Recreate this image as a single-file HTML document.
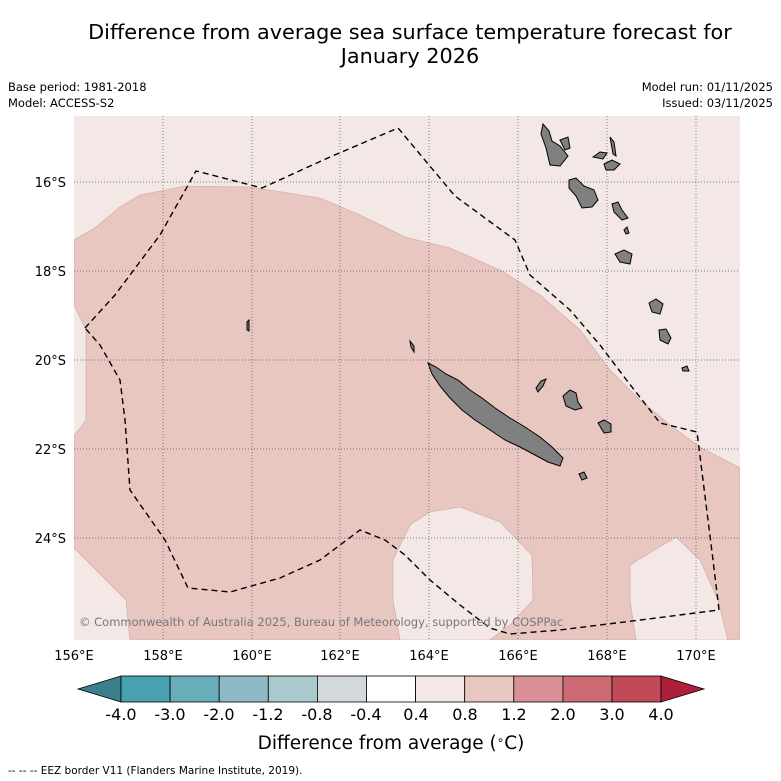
<!DOCTYPE html>
<html><head><meta charset="utf-8"><style>
body{margin:0;background:#fff;width:781px;height:781px;overflow:hidden;font-family:"DejaVu Sans","Liberation Sans",sans-serif}
svg{display:block}
</style></head><body>
<svg width="781" height="781" viewBox="0 0 781 781">
<text x="410" y="39" text-anchor="middle" font-size="20.8" fill="#000">Difference from average sea surface temperature forecast for</text>
<text x="410" y="63" text-anchor="middle" font-size="20.8" fill="#000">January 2026</text>
<text x="8" y="91" font-size="11.5">Base period: 1981-2018</text>
<text x="8" y="107" font-size="11.5">Model: ACCESS-S2</text>
<text x="773" y="91" font-size="11.5" text-anchor="end">Model run: 01/11/2025</text>
<text x="773" y="107" font-size="11.5" text-anchor="end">Issued: 03/11/2025</text>
<g id="map">
<clipPath id="mc"><rect x="74" y="116" width="666" height="524"/></clipPath>
<g clip-path="url(#mc)">
<rect x="74" y="116" width="666" height="524" fill="#f4e8e6"/>
<path fill="#e8c7c1" stroke="#c9a6a2" stroke-width="0.6" d="M74,240 L95,228 L120,207 L140,195 L185,186 L250,187 L320,198 L360,215 L405,237 L450,248 L500,270 L540,295 L580,330 L610,370 L640,400 L670,425 L700,447 L740,468 L740,640 L130,640 L126,600 L74,548 L74,436 L86,420 L86,330 L74,305 Z"/>
<path fill="#f4e8e6" stroke="#c9a6a2" stroke-width="0.6" d="M393,560 L410,525 L430,512 L460,507 L500,522 L532,555 L533,600 L510,625 L490,640 L400,640 L393,600 Z"/>
<path fill="#f4e8e6" stroke="#c9a6a2" stroke-width="0.6" d="M630,565 L676,537 L700,560 L718,600 L728,640 L636,640 L630,600 Z"/>
<g stroke="#555" stroke-width="0.7" stroke-dasharray="1,2">
<line x1="163" y1="116" x2="163" y2="640"/><line x1="252" y1="116" x2="252" y2="640"/><line x1="340" y1="116" x2="340" y2="640"/><line x1="429" y1="116" x2="429" y2="640"/><line x1="518" y1="116" x2="518" y2="640"/><line x1="607" y1="116" x2="607" y2="640"/><line x1="696" y1="116" x2="696" y2="640"/>
<line x1="74" y1="182" x2="740" y2="182"/><line x1="74" y1="271" x2="740" y2="271"/><line x1="74" y1="360" x2="740" y2="360"/><line x1="74" y1="449" x2="740" y2="449"/><line x1="74" y1="538" x2="740" y2="538"/>
</g>
<path fill="none" stroke="#000" stroke-width="1.4" stroke-dasharray="6,4" d="M85,328 L115,295 L160,235 L196,171 L262,188 L330,157 L398,128 L455,196 L515,240 L530,275 L570,310 L600,345 L625,378 L660,423 L697,432 L703,480 L713,560 L719,610 L640,620 L560,630 L510,634 L490,628 L460,605 L430,580 L405,555 L385,540 L360,530 L320,560 L280,578 L230,592 L188,588 L165,540 L130,490 L125,420 L120,380 L100,345 Z"/>
<g fill="#808080" stroke="#000" stroke-width="1">
<path d="M428,363 L436,367 L446,374 L458,380 L470,390 L482,398 L495,408 L510,418 L525,427 L540,437 L552,447 L563,458 L560,466 L548,462 L535,455 L520,447 L505,440 L490,430 L475,420 L462,410 L450,398 L440,386 L432,374 Z"/>
<path d="M410,341 L414,346 L414,352 L411,347 Z"/>
<path d="M536,388 L541,381 L546,379 L543,386 L538,392 Z"/>
<path d="M563,396 L570,390 L576,393 L578,402 L582,408 L575,410 L566,406 Z"/>
<path d="M598,423 L604,420 L611,424 L611,432 L604,433 Z"/>
<path d="M579,474 L584,472 L587,478 L582,480 Z"/>
<path d="M543,124 L549,131 L552,141 L560,146 L568,156 L560,166 L550,165 L546,148 L541,134 Z"/>
<path d="M560,140 L568,137 L570,148 L565,150 Z"/>
<path d="M593,157 L600,152 L607,153 L603,159 Z"/>
<path d="M610,137 L614,142 L616,156 L613,154 Z"/>
<path d="M604,164 L612,160 L620,164 L614,170 L606,170 Z"/>
<path d="M569,180 L576,178 L584,186 L594,190 L598,200 L592,207 L582,208 L576,196 L569,188 Z"/>
<path d="M612,204 L618,202 L622,210 L628,218 L622,220 L614,212 Z"/>
<path d="M624,230 L627,227 L629,233 L626,234 Z"/>
<path d="M615,254 L624,250 L632,254 L630,264 L620,262 Z"/>
<path d="M649,303 L656,299 L663,304 L660,314 L652,312 Z"/>
<path d="M659,330 L666,329 L671,338 L668,344 L660,340 Z"/>
<path d="M682,368 L687,366 L689,371 L683,371 Z"/>
<path d="M247,322 L249,320 L249,331 L247,330 Z"/>
</g>
</g>
</g>
<text x="79" y="626" font-size="11.5" fill="#777">© Commonwealth of Australia 2025, Bureau of Meteorology, supported by COSPPac</text>
<g font-size="13" fill="#000">
<text x="66" y="187" text-anchor="end">16°S</text><text x="66" y="276" text-anchor="end">18°S</text><text x="66" y="365" text-anchor="end">20°S</text><text x="66" y="454" text-anchor="end">22°S</text><text x="66" y="543" text-anchor="end">24°S</text>
</g>
<g font-size="13" fill="#000" text-anchor="middle">
<text x="74" y="660">156°E</text><text x="163" y="660">158°E</text><text x="252" y="660">160°E</text><text x="340" y="660">162°E</text><text x="429" y="660">164°E</text><text x="518" y="660">166°E</text><text x="607" y="660">168°E</text><text x="696" y="660">170°E</text>
</g>
<g stroke="#000" stroke-width="0.8">
<polygon points="78,689 121,676 121,702" fill="#3b7f8c"/>
<rect x="121" y="676" width="49.1" height="26" fill="#49a0b1"/>
<rect x="170.1" y="676" width="49.1" height="26" fill="#69adba"/>
<rect x="219.2" y="676" width="49.1" height="26" fill="#8dbac5"/>
<rect x="268.3" y="676" width="49.1" height="26" fill="#aac9cd"/>
<rect x="317.4" y="676" width="49.1" height="26" fill="#d2d9da"/>
<rect x="366.5" y="676" width="49.1" height="26" fill="#ffffff"/>
<rect x="415.6" y="676" width="49.1" height="26" fill="#f4e8e6"/>
<rect x="464.7" y="676" width="49.1" height="26" fill="#e8c7c1"/>
<rect x="513.8" y="676" width="49.1" height="26" fill="#d99197"/>
<rect x="562.9" y="676" width="49.1" height="26" fill="#cd6b75"/>
<rect x="612" y="676" width="49" height="26" fill="#c04a57"/>
<polygon points="661,676 704,689 661,702" fill="#ae1f3c"/>
</g>
<g font-size="16" text-anchor="middle" fill="#000">
<text x="121" y="720">-4.0</text><text x="170" y="720">-3.0</text><text x="219" y="720">-2.0</text><text x="268" y="720">-1.2</text><text x="317" y="720">-0.8</text><text x="366" y="720">-0.4</text><text x="416" y="720">0.4</text><text x="465" y="720">0.8</text><text x="514" y="720">1.2</text><text x="563" y="720">2.0</text><text x="612" y="720">3.0</text><text x="661" y="720">4.0</text>
</g>
<text x="391" y="749" font-size="18.5" text-anchor="middle">Difference from average (<tspan font-size="12" dy="-5">∘</tspan><tspan dy="5">C)</tspan></text>
<text x="8" y="774" font-size="10.5">--  --  -- EEZ border V11 (Flanders Marine Institute, 2019).</text>
</svg>
</body></html>
